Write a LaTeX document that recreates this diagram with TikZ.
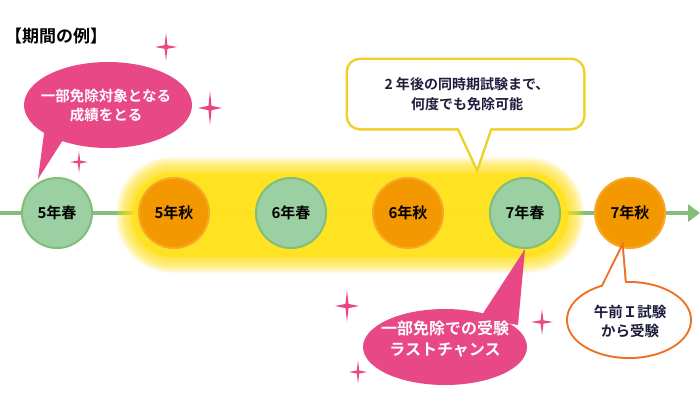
\documentclass[tikz,border=0pt]{standalone}
\usepackage{fontspec}
\setmainfont{Noto Sans CJK JP}[BoldFont={Noto Sans CJK JP Bold}]
\usetikzlibrary{arrows.meta,shapes.geometric,calc}
\definecolor{pk}{RGB}{232,72,134}
\definecolor{grfill}{RGB}{155,208,162}
\definecolor{grline}{RGB}{130,190,120}
\definecolor{orfill}{RGB}{243,152,0}
\definecolor{orring}{RGB}{246,168,40}
\definecolor{glow}{RGB}{255,227,30}
\definecolor{ylw}{RGB}{240,208,40}
\definecolor{orline}{RGB}{238,112,34}
\definecolor{navy}{RGB}{30,30,60}
\newcommand\mysparkle[4]{%
  \fill[pk,shift={(#1,#2)}] (0,-#4) -- ({0.13*#3},{-0.13*#4}) -- (#3,0) -- ({0.13*#3},{0.13*#4}) -- (0,#4) -- ({-0.13*#3},{0.13*#4}) -- (-#3,0) -- ({-0.13*#3},{-0.13*#4}) -- cycle;}
\begin{document}
\begin{tikzpicture}[x=1pt,y=-1pt,
  circtxt/.style={font=\bfseries\fontsize{15}{18}\selectfont, text=black},
  grcirc/.style={circle, minimum size=70pt, inner sep=0pt, fill=grfill, draw=grline, line width=2pt, circtxt},
  orcirc/.style={circle, minimum size=70pt, inner sep=0pt, fill=orfill, draw=orring, line width=2pt, circtxt},
  wtxt/.style={font=\bfseries\fontsize{14.5}{18.5}\selectfont, text=white, align=center, inner sep=0pt},
  ntxt/.style={font=\bfseries\fontsize{14}{20}\selectfont, text=navy, align=center, inner sep=0pt}]
\useasboundingbox (0,0) rectangle (700,400);
\fill[white] (0,0) rectangle (700,400);

% title
\node[anchor=west, inner sep=0pt, font=\bfseries\fontsize{17}{20}\selectfont] (title) at (5,36) {【期間の例】};

% timeline
\coordinate (ls) at (0,213);
\coordinate (le) at (700,213);
\draw[grline, line width=4pt, -{Triangle[length=12pt,width=17pt]}] (ls) -- (le);

% glow
\foreach \i [evaluate=\i as \r using 40+\i] in {16,15,...,1} {
  \fill[glow, opacity=0.09, rounded corners=\r pt] (132-\i,173-\i) rectangle (568+\i,257+\i);
}
\fill[glow, opacity=0.9, rounded corners=40pt] (132,173) rectangle (568,257);

% circles
\node[grcirc] (c1) at (57,213) {5年春};
\node[orcirc] (c2) at (174,213) {5年秋};
\node[grcirc] (c3) at (291,213) {6年春};
\node[orcirc] (c4) at (408,213) {6年秋};
\node[grcirc] (c5) at (525,213) {7年春};
\node[orcirc] (c6) at (630,213) {7年秋};

% top-left pink callout
\coordinate (ptip) at (38,179);
\fill[pk] (108,105) ellipse [x radius=84, y radius=43];
\fill[pk] (45,126) -- (ptip) -- (68,132) -- cycle;
\node[wtxt] (t1) at (106,105.5) {一部免除対象となる\\成績をとる};

% yellow callout
\coordinate (ytip) at (477,167);
\draw[ylw, line width=5pt, rounded corners=12pt] (348,60) rectangle (583,128);
\draw[ylw, line width=5pt] (455,120) -- (ytip) -- (493,120);
\fill[white, rounded corners=12pt] (348,60) rectangle (583,128);
\fill[white] (455,120) -- (ytip) -- (493,120) -- cycle;
\node[ntxt] (t2) at (467,94) {2 年後の同時期試験まで、\\何度でも免除可能};

% bottom pink callout
\fill[pk] (445,347) ellipse [x radius=82, y radius=38];
\fill[pk] (480,318) -- (c5.south) -- (518,325) -- cycle;
\node[wtxt, font=\bfseries\fontsize{16}{21}\selectfont] (t3) at (445,339) {一部免除での受験\\ラストチャンス};

% orange outline callout
\draw[orline, line width=4pt] (629,320) ellipse [x radius=61, y radius=37];
\draw[orline, line width=4pt] (598,296) -- (c6.-103) -- (626,296);
\fill[white] (629,320) ellipse [x radius=61, y radius=37];
\fill[white] (598,296) -- (c6.-103) -- (626,296) -- cycle;
\node[ntxt, font=\bfseries\fontsize{14.5}{19}\selectfont] (t4) at (630,321) {午前Ｉ試験\\から受験};

% sparkles
\mysparkle{166}{47}{11}{14}
\mysparkle{210}{108}{12}{17}
\mysparkle{79}{162}{9}{11}
\mysparkle{347}{306}{12}{16}
\mysparkle{542}{322}{11}{13}
\mysparkle{358}{372}{9}{12}
\end{tikzpicture}
\end{document}
